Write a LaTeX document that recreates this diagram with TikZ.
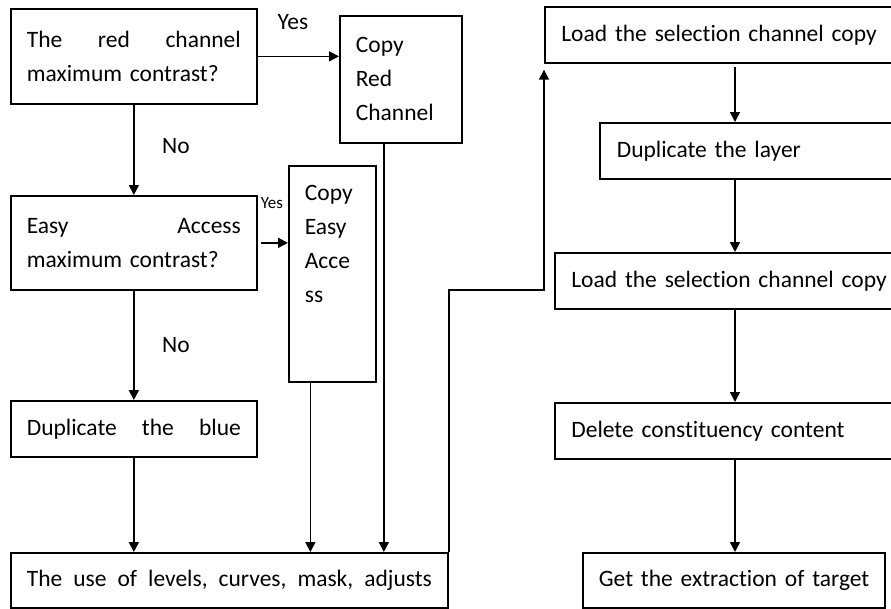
\documentclass[tikz,border=0pt]{standalone}
\usepackage{fontspec}
\setmainfont[Ligatures=NoCommon]{Carlito}
\usetikzlibrary{arrows.meta,calc,positioning}

\begin{document}
\begin{tikzpicture}[x=1pt,y=-1pt,
    box/.style={draw,line width=1.7pt,anchor=north west,inner xsep=16pt,inner ysep=0pt,
      align=left,font=\fontsize{23.5}{34}\selectfont},
    lbl/.style={font=\fontsize{23.5}{26}\selectfont},
    flow/.style={line width=1.7pt,-{Triangle[length=10pt,width=10pt]}}]
    \clip (0,0) rectangle (891,608);

    % Left column: decisions and copies
    \node[box,minimum width=246,minimum height=95,text width=214] (redq) at (10,8)
      {The\hfill red\hfill channel\\maximum contrast?};
    \node[box,minimum width=122,minimum height=127,text width=90] (copyred) at (339,15)
      {Copy\\Red\\Channel};
    \node[box,minimum width=246,minimum height=94,text width=214] (easyq) at (10,195)
      {Easy\hfill Access\\maximum contrast?};
    \node[box,minimum width=87,minimum height=216] (copyea) at (288,165) {};
    \node[box,draw=none,anchor=north west,text width=60] (copyeatxt) at (288,184)
      {Copy\\Easy\\Acce\\ss};
    \node[box,minimum width=246,minimum height=56,text width=214] (dupblue) at (10,400)
      {Duplicate\hfill the\hfill blue};
    \node[box,minimum width=437,minimum height=55,text width=405] (levels) at (10,552)
      {The\hfill use\hfill of\hfill levels,\hfill curves,\hfill mask,\hfill adjusts};

    % Right column
    \node[box,minimum width=351,minimum height=56,text width=318] (loadsel) at (544,6)
      {\mbox{Load the selection channel copy}};
    \node[box,minimum width=296,minimum height=56,text width=262] (duplayer) at (599,122)
      {\mbox{Duplicate the layer}};
    \node[box,minimum width=341,minimum height=56,text width=308] (loadsel2) at (554,252)
      {\mbox{Load the selection channel copy}};
    \node[box,minimum width=341,minimum height=56,text width=308] (delcont) at (554,402)
      {\mbox{Delete constituency content}};
    \node[box,minimum width=302,minimum height=55,text width=270] (getext) at (582,552)
      {\mbox{Get the extraction of target}};

    % Labels
    \node[lbl] (yes1) at (293,22) {Yes};
    \node[lbl] (no1) at (176,146) {No};
    \node[font=\fontsize{17}{19}\selectfont] (yes2) at (272,203) {Yes};
    \node[lbl] (no2) at (176,345) {No};

    % Connectors
    \coordinate (bend) at (0,290);
    \coordinate (spine) at (735,0);
    \draw[flow] (redq.east) -- (copyred.west |- redq.east);
    \draw[flow] (redq.south) -- (easyq.north);
    \draw[flow,shorten <=3pt] (easyq.east) -- (copyea.west |- easyq.east);
    \draw[flow] (easyq.south) -- (dupblue.north);
    \draw[flow] (dupblue.south) -- (dupblue.south |- levels.north);
    \draw[flow] ([xshift=-22pt]copyea.south) -- ([xshift=-22pt]copyea.south |- levels.north);
    \draw[flow] ([xshift=-17pt]copyred.south) -- ([xshift=-17pt]copyred.south |- levels.north);
    \draw[flow] (levels.north east) -- (levels.north east |- bend)
      -| ([yshift=-6pt]loadsel.south west);
    \draw[flow,shorten <=3pt] (loadsel.south -| spine) -- (duplayer.north -| spine);
    \draw[flow] (duplayer.south -| spine) -- (loadsel2.north -| spine);
    \draw[flow] (loadsel2.south -| spine) -- (delcont.north -| spine);
    \draw[flow] (delcont.south -| spine) -- (getext.north -| spine);
\end{tikzpicture}
\end{document}
